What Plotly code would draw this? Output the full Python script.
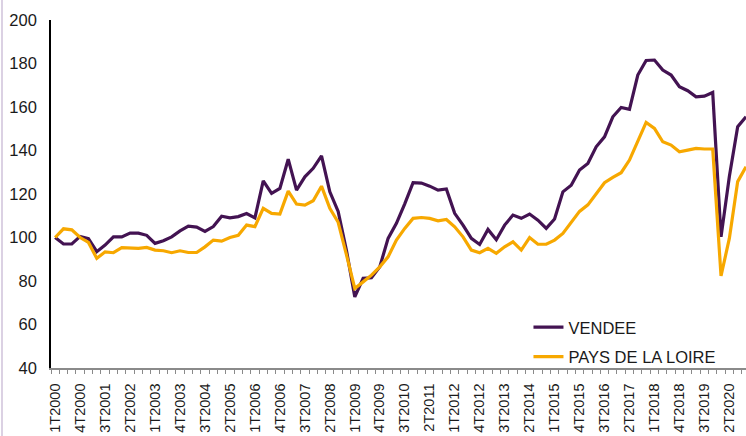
import plotly.graph_objects as go

quarters = [f"{q}T{y}" for y in range(2000, 2021) for q in range(1, 5)]

vendee = [100, 97, 97, 100.5, 99.5, 93.5, 96.5, 100.3, 100.3, 102, 102, 101,
          97.3, 98.5, 100.3, 103, 105.2, 104.8, 102.8, 105, 109.8, 109, 109.6, 111,
          109, 126, 120.3, 122.6, 136, 121.8, 127.9, 131.8, 137.5, 121, 112, 94,
          72.7, 81.2, 81.5, 86.5, 99.6, 106.5, 115.5, 125.2, 125, 123.6, 121.8, 122.3,
          111.1, 105.7, 99.6, 96.8, 103.7, 99, 105.7, 110.3, 108.8, 110.8, 108, 104.2,
          108.5, 121, 124, 131, 134, 141.7, 146.3, 155.5, 159.8, 158.9, 174.7, 181.4,
          181.6, 177, 174.7, 169.3, 167.5, 164.7, 165, 166.7, 100.3, 128, 150.9, 155.5]

pays_de_la_loire = [100, 104, 103.5, 100, 97.7, 90.4, 93.4, 93, 95.3, 95.3, 95, 95.4,
                    94.2, 93.9, 93, 93.9, 93.1, 93.1, 95.7, 98.8, 98.3, 100, 101, 105.7,
                    105, 113.4, 111.1, 110.8, 121.3, 115.4, 114.9, 116.9, 123.6, 113.4, 107, 92,
                    76.6, 79.6, 82.7, 86.5, 91.1, 98.8, 104.2, 108.8, 109.2, 108.8, 107.7, 108.3,
                    104.9, 100.3, 94.2, 93, 95, 92.7, 95.7, 98, 94.2, 100, 96.9, 96.9,
                    98.8, 101.9, 107, 112, 115, 120.3, 125.2, 127.6, 129.8, 135.6, 144, 152.9,
                    150.2, 144, 142.5, 139.4, 140.2, 141, 140.7, 140.7, 82.3, 99.6, 125.7, 132.5]

y_ticks = [40, 60, 80, 100, 120, 140, 160, 180, 200]

idx = list(range(len(quarters)))
label_idx = idx[::3]
label_txt = [quarters[i] for i in label_idx]

fig = go.Figure()
fig.add_trace(go.Scatter(x=idx, y=vendee, mode="lines", name="VENDEE",
                         legendgroup="a",
                         line=dict(color="#431352", width=3.2)))
fig.add_trace(go.Scatter(x=idx, y=pays_de_la_loire, mode="lines", name="PAYS DE LA LOIRE",
                         legendgroup="b",
                         line=dict(color="#F7A800", width=3.2)))

fig.update_layout(
    template="none",
    width=746, height=436,
    margin=dict(l=51, r=0, t=20, b=68, autoexpand=False),
    paper_bgcolor="white", plot_bgcolor="white",
    font=dict(family="Liberation Sans, Arial, sans-serif", color="#1a1a1a"),
    legend=dict(x=0.687, y=0.167, xanchor="left", yanchor="top",
                font=dict(size=16.5, color="#1a1a1a"),
                traceorder="grouped", tracegroupgap=5,
                bgcolor="rgba(0,0,0,0)"),
    showlegend=True,
)
fig.update_xaxes(
    automargin=False,
    range=[-0.5, 83.0], tickmode="array", tickvals=label_idx, ticktext=label_txt,
    tickangle=-90, tickfont=dict(size=14.5, color="#1a1a1a"), ticks="", ticklabelstandoff=8,
    showline=True, linecolor="#8a8a8a", linewidth=1.5, showgrid=False, zeroline=False,
    minor=dict(tickmode="linear", tick0=-0.5, dtick=1, ticks="outside", ticklen=4,
               tickcolor="#8a8a8a", tickwidth=1, showgrid=False),
)
fig.update_yaxes(
    automargin=False,
    range=[40, 200], tickmode="array", tickvals=y_ticks,
    tickfont=dict(size=16.5, color="#1a1a1a"),
    ticks="", ticklabelstandoff=9, showline=True, linecolor="black", linewidth=1.6,
    showgrid=False, zeroline=False,
)
fig.add_shape(type="line", xref="paper", yref="paper",
              x0=-0.0705, x1=-0.0705, y0=-0.2, y1=1.06,
              line=dict(color="#cfc2da", width=1.5))

fig.write_html("out.html", config={"displayModeBar": False},
               post_script="document.body.style.margin='0';document.body.style.overflow='hidden';")
